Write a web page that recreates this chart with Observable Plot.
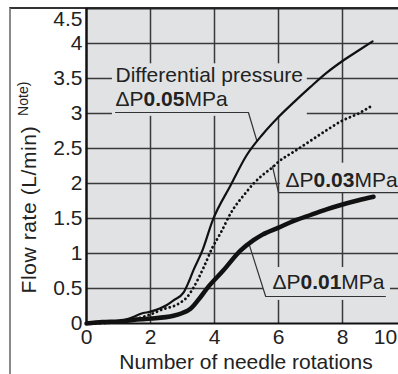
<!DOCTYPE html>
<html><head><meta charset="utf-8">
<script src="https://cdn.jsdelivr.net/npm/d3@7"></script>
<script src="https://cdn.jsdelivr.net/npm/@observablehq/plot@0.6"></script>
<style>
body{margin:0;background:#fff;}
#wrap{position:relative;width:398px;height:374px;overflow:hidden;}
#box{position:absolute;left:9px;top:7px;width:400px;height:380px;border-left:2px solid #8a8a8a;border-top:2px solid #333;box-sizing:border-box;}
#wrap svg{position:absolute;left:0;top:0;}
</style></head><body><div id="wrap"><div id="box"></div></div>
<script>
// Series: ΔP 0.05 MPa (thin solid)
const rot05 = [0, 0.5, 1, 1.5, 1.7, 2, 2.5, 2.72, 3.03, 3.2, 3.34, 3.62, 3.94, 4.5, 5, 5.5, 6, 6.5, 7, 7.5, 8, 8.5, 8.94];
const flow05 = [0, 0.01, 0.03, 0.1, 0.14, 0.17, 0.26, 0.33, 0.44, 0.6, 0.76, 1.04, 1.47, 1.97, 2.4, 2.7, 2.95, 3.17, 3.38, 3.58, 3.75, 3.9, 4.03];
// Series: ΔP 0.03 MPa (dotted)
const rot03 = [0, 1, 1.5, 2, 2.31, 2.94, 3.15, 3.34, 3.66, 3.94, 4.2, 4.5, 5, 5.22, 5.5, 5.81, 6, 6.5, 7, 7.5, 8, 8.5, 8.88];
const flow03 = [0, 0.02, 0.06, 0.13, 0.19, 0.3, 0.38, 0.51, 0.8, 1.09, 1.3, 1.57, 1.88, 2.0, 2.12, 2.23, 2.31, 2.46, 2.61, 2.76, 2.9, 3.0, 3.1];
// Series: ΔP 0.01 MPa (thick solid)
const rot01 = [0, 0.5, 1, 1.7, 2, 2.72, 3.0, 3.25, 3.5, 3.78, 4.28, 4.81, 5.22, 5.5, 6, 6.5, 7, 7.5, 8, 8.5, 8.97];
const flow01 = [0, 0.02, 0.03, 0.06, 0.07, 0.11, 0.15, 0.21, 0.34, 0.51, 0.76, 1.04, 1.19, 1.27, 1.37, 1.47, 1.55, 1.63, 1.7, 1.76, 1.81];

const xTicks = [0, 2, 4, 6, 8];
const xTickLast = [10];
const yTicks = [0, 0.5, 1, 1.5, 2, 2.5, 3, 3.5, 4];
const yTickTop = [4.5];
const xGrid = [2, 4, 6, 8];
const yGrid = [0.5, 1, 1.5, 2, 2.5, 3, 3.5, 4];
const seriesLabels = ["ΔP0.05MPa", "ΔP0.03MPa", "ΔP0.01MPa"];
const labelTitle = "Differential pressure";
const xLabel = "Number of needle rotations";
const yLabel = "Flow rate (L/min)";
const yNote = "Note)";

const pts = (xs, ys) => xs.map((x, i) => ({x, y: ys[i]}));
const BG = "#e1e2e4";
const FONT = 21;

const boxes = [
  {x1: 0.81, x2: 6.9, y1: 2.96, y2: 3.71},
  {x1: 6.06, x2: 9.9, y1: 1.86, y2: 2.29},
  {x1: 5.53, x2: 9.5, y1: 0.33, y2: 0.8}
];
const leaders = [
  [{x: 0.906, y: 3.014}, {x: 5.06, y: 3.014}, {x: 5.33, y: 2.6}],
  [{x: 9.9, y: 1.87}, {x: 6.0, y: 1.87}, {x: 5.81, y: 2.25}],
  [{x: 9.34, y: 0.386}, {x: 5.6, y: 0.386}, {x: 5.09, y: 1.12}]
];

const chart = Plot.plot({
  width: 398, height: 374,
  marginLeft: 86, marginTop: 8, marginBottom: 51, marginRight: 0,
  x: {domain: [0, 9.75]},
  y: {domain: [0, 4.5]},
  style: {fontFamily: "Liberation Sans, Arial, sans-serif", fontSize: FONT + "px", background: "transparent", color: "#222"},
  marks: [
    Plot.frame({fill: BG, stroke: null}),
    Plot.ruleY(yGrid, {stroke: "#3a3a3a", strokeWidth: 1.5}),
    Plot.ruleX(xGrid, {stroke: "#3a3a3a", strokeWidth: 1.5}),
    Plot.rect(boxes, {x1: "x1", x2: "x2", y1: "y1", y2: "y2", fill: BG}),
    Plot.ruleY([4.5], {stroke: "#222", strokeWidth: 2}),
    Plot.ruleX([0], {stroke: "#111", strokeWidth: 2.5}),
    Plot.ruleY([0], {stroke: "#111", strokeWidth: 2}),
    ...leaders.map(L => Plot.line(L, {x: "x", y: "y", stroke: "#333", strokeWidth: 1.2})),
    Plot.line(pts(rot05, flow05), {x: "x", y: "y", curve: "monotone-x", stroke: "#111", strokeWidth: 2.2}),
    Plot.line(pts(rot03, flow03), {x: "x", y: "y", curve: "monotone-x", stroke: "#111", strokeWidth: 2.8, strokeDasharray: "0.1,4.4", strokeLinecap: "round"}),
    Plot.line(pts(rot01, flow01), {x: "x", y: "y", curve: "monotone-x", stroke: "#111", strokeWidth: 4.5}),
    Plot.text([labelTitle], {x: 0.906, y: 3.443, textAnchor: "start", lineAnchor: "bottom", fill: "#222"}),
    Plot.text([seriesLabels[0]], {x: 0.906, y: 3.114, textAnchor: "start", lineAnchor: "bottom", fill: "#222"}),
    Plot.text([seriesLabels[1]], {x: 6.22, y: 1.943, textAnchor: "start", lineAnchor: "bottom", fill: "#222"}),
    Plot.text([seriesLabels[2]], {x: 5.81, y: 0.486, textAnchor: "start", lineAnchor: "bottom", fill: "#222"}),
    Plot.axisY(yTicks, {tickSize: 0, tickPadding: 4, label: null, fontSize: FONT, tickFormat: d => String(d)}),
    Plot.text(yTickTop, {y: d => d, frameAnchor: "left", textAnchor: "end", dx: -4, dy: 11, text: d => String(d), fill: "#222"}),
    Plot.axisX(xTicks, {tickSize: 0, tickPadding: 6, label: null, fontSize: FONT, tickFormat: d => String(d)}),
    Plot.text(xTickLast, {x: d => d, frameAnchor: "bottom", lineAnchor: "top", dy: 6, dx: -21, text: d => String(d), fill: "#222"}),
    Plot.text([xLabel], {frameAnchor: "bottom", lineAnchor: "bottom", dx: 3.5, dy: 45, fill: "#222"}),
    Plot.text([yLabel], {frameAnchor: "bottom-left", textAnchor: "start", lineAnchor: "bottom", rotate: -90, dx: -51, dy: -30, fill: "#222"})
  ]
});

// rich text: bold numbers and superscript note
d3.select(chart).selectAll("text").each(function() {
  const t = this.textContent;
  const m = t.match(/^(ΔP)(0\.\d+)(MPa)$/);
  if (m) {
    const s = d3.select(this);
    s.text(null);
    s.append("tspan").text(m[1]);
    s.append("tspan").attr("font-weight", "bold").text(m[2]);
    s.append("tspan").text(m[3]);
  } else if (t === yLabel) {
    const s = d3.select(this);
    s.attr("letter-spacing", "0.6px");
    s.append("tspan").attr("font-size", "14px").attr("dx", "6").attr("dy", "-0.55em").attr("letter-spacing", "0").text(" " + yNote);
  }
});

document.getElementById("wrap").appendChild(chart);
</script>
</body></html>
